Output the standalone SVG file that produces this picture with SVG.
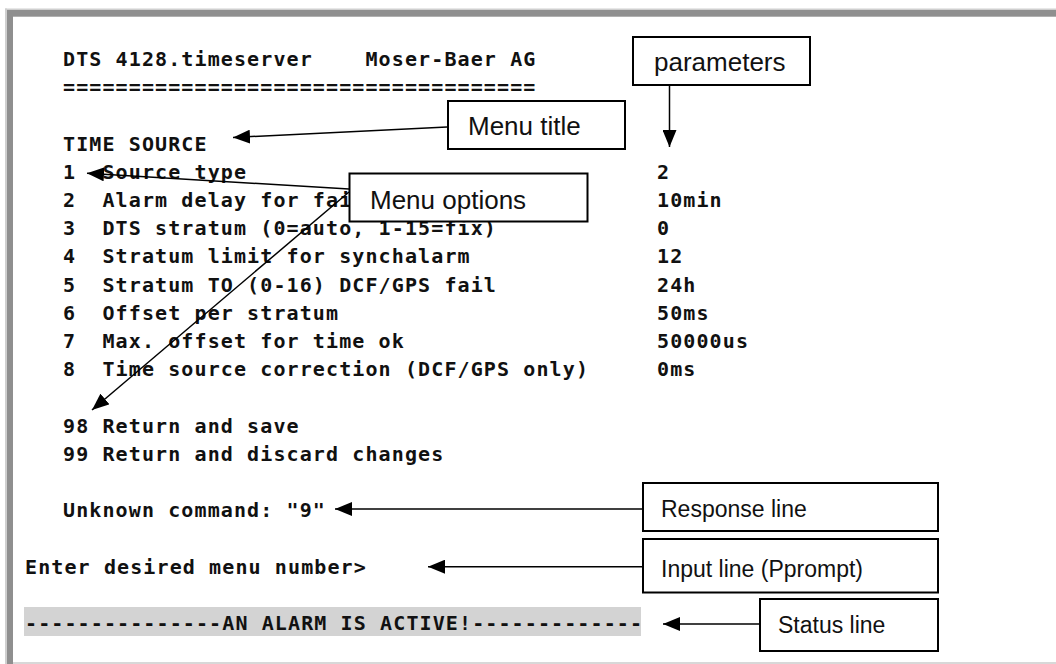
<svg xmlns="http://www.w3.org/2000/svg" width="1056" height="664" viewBox="0 0 1056 664">
<style>
.mono{font-family:"DejaVu Sans Mono","Liberation Mono",monospace;font-weight:bold;font-size:20px;letter-spacing:1.11px;fill:#111;white-space:pre}
.lbl{font-family:"Liberation Sans",Arial,sans-serif;font-size:26px;fill:#111}
.lbs{font-family:"Liberation Sans",Arial,sans-serif;font-size:23px;fill:#111}
.box{fill:#fff;stroke:#000;stroke-width:2}
.con{stroke:#000;stroke-width:1.5;fill:none;marker-end:url(#ah)}
</style>
<defs>
<marker id="ah" markerUnits="userSpaceOnUse" markerWidth="18" markerHeight="14" refX="17" refY="7" orient="auto">
<path d="M0,0 L17,7 L0,14 Z" fill="#000"/>
</marker>
</defs>
<rect width="1056" height="664" fill="#fff"/>
<g id="frame">
<rect x="5" y="8.5" width="1051" height="2" fill="#cfcfcf"/>
<rect x="5" y="8.5" width="2" height="656" fill="#cfcfcf"/>
<rect x="7" y="10" width="1049" height="6.7" fill="#8f8f8f"/>
<rect x="7" y="10" width="6" height="654" fill="#8f8f8f"/>
<rect x="13" y="662" width="1043" height="2" fill="#d8d8d8"/>
</g>
<g id="terminal" xml:space="preserve">
<text class="mono" x="63" y="66">DTS 4128.timeserver    Moser-Baer AG</text>
<text class="mono" x="63" y="94.2">====================================</text>
<text class="mono" x="63" y="150.6">TIME SOURCE</text>
<text class="mono" x="63" y="178.8">1  Source type</text>
<text class="mono" x="63" y="207">2  Alarm delay for fai</text>
<text class="mono" x="63" y="235.2">3  DTS stratum (0=auto, 1-15=fix)</text>
<text class="mono" x="63" y="263.4">4  Stratum limit for synchalarm</text>
<text class="mono" x="63" y="291.6">5  Stratum TO (0-16) DCF/GPS fail</text>
<text class="mono" x="63" y="319.8">6  Offset per stratum</text>
<text class="mono" x="63" y="348">7  Max. offset for time ok</text>
<text class="mono" x="63" y="376.2">8  Time source correction (DCF/GPS only)</text>
<text class="mono" x="657" y="178.8">2</text>
<text class="mono" x="657" y="207">10min</text>
<text class="mono" x="657" y="235.2">0</text>
<text class="mono" x="657" y="263.4">12</text>
<text class="mono" x="657" y="291.6">24h</text>
<text class="mono" x="657" y="319.8">50ms</text>
<text class="mono" x="657" y="348">50000us</text>
<text class="mono" x="657" y="376.2">0ms</text>
<text class="mono" x="63" y="432.6">98 Return and save</text>
<text class="mono" x="63" y="460.8">99 Return and discard changes</text>
<text class="mono" x="63" y="517.2">Unknown command: "9"</text>
<text class="mono" x="25" y="573.6">Enter desired menu number&gt;</text>
<rect x="24" y="607" width="617" height="29" fill="#d3d3d3"/>
<text class="mono" x="25" y="630">---------------AN ALARM IS ACTIVE!-------------</text>
</g>
<g id="connectors">
<line class="con" x1="669.5" y1="85" x2="669.5" y2="147"/>
<line class="con" x1="447" y1="127" x2="233" y2="137.5"/>
<line class="con" x1="349" y1="189" x2="87" y2="173.3"/>
<line class="con" x1="349" y1="192" x2="92" y2="410"/>
<line class="con" x1="643" y1="509" x2="335" y2="509"/>
<line class="con" x1="643" y1="566.7" x2="428" y2="566.7"/>
<line class="con" x1="760" y1="624" x2="663" y2="624"/>
</g>
<g id="node-parameters">
<rect class="box" x="633" y="37" width="177" height="48"/>
<text class="lbl" x="654" y="71">parameters</text>
</g>
<g id="node-menu-title">
<rect class="box" x="448" y="101" width="177" height="48"/>
<text class="lbl" x="468" y="135">Menu title</text>
</g>
<g id="node-menu-options">
<rect class="box" x="349.5" y="173.5" width="238" height="48"/>
<text class="lbl" x="370" y="209">Menu options</text>
</g>
<g id="node-response-line">
<rect class="box" x="643" y="483" width="295" height="48"/>
<text class="lbs" x="661" y="516.5">Response line</text>
</g>
<g id="node-input-line">
<rect class="box" x="643" y="539" width="295" height="53.5"/>
<text class="lbs" x="661" y="576.5">Input line (Pprompt)</text>
</g>
<g id="node-status-line">
<rect class="box" x="760" y="599" width="178" height="52"/>
<text class="lbs" x="778" y="633">Status line</text>
</g>
</svg>
